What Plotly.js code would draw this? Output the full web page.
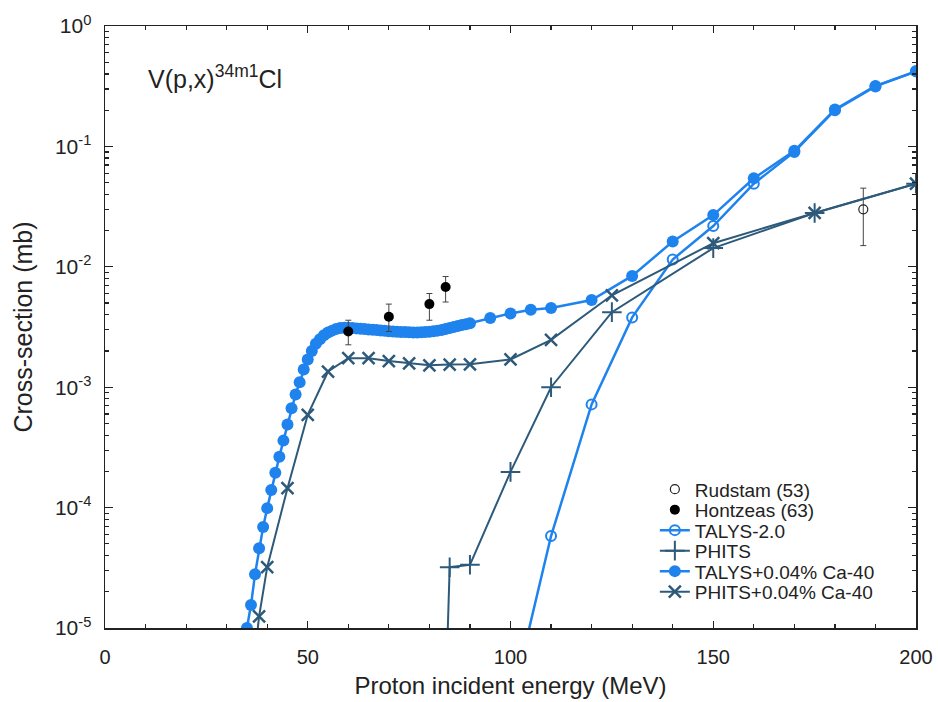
<!DOCTYPE html>
<html><head><meta charset="utf-8">
<script src="https://cdn.plot.ly/plotly-3.0.1.min.js"></script>
<style>html,body{margin:0;padding:0;background:#fff}#chart{width:938px;height:702px}</style>
</head><body><div id="chart"></div>
<script>
// TALYS + 0.04% Ca-40 (filled circles)
const talysCaE = [35,36,37,38,39,40,41,42,43,44,45,46,47,48,49,50,51,52,53,54,55,56,57,58,59,60,
  61,62,63,64,65,66,67,68,69,70,71,72,73,74,75,76,77,78,79,80,81,82,83,84,85,86,87,88,89,90,
  95,100,105,110,120,130,140,150,160,170,180,190,200];
const talysCaV = [1.0e-5,1.55e-5,2.8e-5,4.6e-5,6.9e-5,9.9e-5,1.4e-4,1.95e-4,2.65e-4,3.6e-4,4.9e-4,6.7e-4,8.7e-4,1.1e-3,1.4e-3,1.7e-3,2.0e-3,2.3e-3,2.5e-3,2.7e-3,2.85e-3,2.95e-3,3.05e-3,3.1e-3,3.12e-3,3.12e-3,
  3.1e-3,3.08e-3,3.06e-3,3.04e-3,3.02e-3,3.0e-3,2.98e-3,2.96e-3,2.94e-3,2.92e-3,2.9e-3,2.89e-3,2.88e-3,2.87e-3,2.86e-3,2.85e-3,2.85e-3,2.86e-3,2.87e-3,2.89e-3,2.92e-3,2.95e-3,2.99e-3,3.04e-3,3.1e-3,3.16e-3,3.22e-3,3.28e-3,3.34e-3,3.4e-3,
  3.75e-3,4.1e-3,4.4e-3,4.55e-3,5.3e-3,8.4e-3,1.62e-2,2.69e-2,5.43e-2,9.2e-2,0.203,0.318,0.42];

// TALYS-2.0 (open circles)
const talysE = [100,110,120,130,140,150,160,170,180,190,200];
const talysV = [2.2e-6,5.8e-5,7.2e-4,3.8e-3,1.15e-2,2.18e-2,4.9e-2,9.0e-2,0.2,0.315,0.42];

// PHITS (+)
const phitsE = [80,85,90,100,110,125,150,175,200];
const phitsV = [1e-10,3.2e-5,3.35e-5,1.98e-4,1.0e-3,4.2e-3,1.43e-2,2.8e-2,4.9e-2];

// PHITS + 0.04% Ca-40 (x)
const phitsCaE = [36,38,40,45,50,55,60,65,70,75,80,85,90,100,110,125,150,175,200];
const phitsCaV = [3e-6,1.25e-5,3.2e-5,1.45e-4,5.9e-4,1.35e-3,1.74e-3,1.74e-3,1.65e-3,1.58e-3,1.52e-3,1.54e-3,1.55e-3,1.7e-3,2.47e-3,5.8e-3,1.57e-2,2.8e-2,4.9e-2];

// Experimental data
const rudstamE = [187];
const rudstamV = [3.0e-2];
const rudstamErrPlus = [1.5e-2];
const rudstamErrMinus = [1.5e-2];

const hontzeasE = [60,70,80,84];
const hontzeasV = [2.9e-3,3.85e-3,4.9e-3,6.8e-3];
const hontzeasErrPlus = [0.7e-3,1.05e-3,1.1e-3,1.5e-3];
const hontzeasErrMinus = [0.65e-3,0.95e-3,1.3e-3,1.7e-3];

// Axis ticks
const yTickVals = [1e-5,1e-4,1e-3,1e-2,1e-1,1];
const yTickText = ['10<sup>-5</sup>','10<sup>-4</sup>','10<sup>-3</sup>','10<sup>-2</sup>','10<sup>-1</sup>','10<sup>0</sup>'];
const xTickVals = [0,50,100,150,200];

const minorY = [];
for (let d = -5; d < 0; d++) for (let k = 2; k <= 9; k++) minorY.push(k * Math.pow(10, d));

const BLUE = '#1f83ee';
const DARK = '#2d5a7a';
const FONT = 'Liberation Sans, Arial, Helvetica, sans-serif';

const traces = [
  {x: talysE, y: talysV, name: 'TALYS-2.0', mode: 'lines+markers', legendrank: 3,
   line: {color: BLUE, width: 2.5},
   marker: {symbol: 'circle-open', size: 10, color: BLUE, line: {color: BLUE, width: 2}}},
  {x: phitsE, y: phitsV, name: 'PHITS', mode: 'lines+markers', legendrank: 4,
   line: {color: DARK, width: 2},
   marker: {symbol: 'cross-thin', size: 14, color: DARK, line: {color: DARK, width: 2}}},
  {x: talysCaE, y: talysCaV, name: 'TALYS+0.04% Ca-40', mode: 'lines+markers', legendrank: 5,
   line: {color: BLUE, width: 2.5},
   marker: {symbol: 'circle', size: 12, color: BLUE}},
  {x: phitsCaE, y: phitsCaV, name: 'PHITS+0.04% Ca-40', mode: 'lines+markers', legendrank: 6,
   line: {color: DARK, width: 2},
   marker: {symbol: 'x-thin', size: 12, color: DARK, line: {color: DARK, width: 2.5}}},
  {x: rudstamE, y: rudstamV, name: 'Rudstam (53)', mode: 'markers', legendrank: 1,
   marker: {symbol: 'circle-open', size: 9, color: '#222', line: {color: '#222', width: 1.2}},
   error_y: {type: 'data', symmetric: false, array: rudstamErrPlus, arrayminus: rudstamErrMinus,
     color: '#444', thickness: 1, width: 3}},
  {x: hontzeasE, y: hontzeasV, name: 'Hontzeas (63)', mode: 'markers', legendrank: 2,
   marker: {symbol: 'circle', size: 10, color: '#000'},
   error_y: {type: 'data', symmetric: false, array: hontzeasErrPlus, arrayminus: hontzeasErrMinus,
     color: '#444', thickness: 1, width: 3}}
];

const layout = {
  width: 938, height: 702,
  margin: {l: 105, r: 22, t: 26, b: 74},
  paper_bgcolor: '#fff', plot_bgcolor: '#fff',
  font: {family: FONT, color: '#222', size: 18},
  showlegend: true,
  legend: {x: 0.678, y: 0.262, xanchor: 'left', yanchor: 'top', bgcolor: 'rgba(0,0,0,0)',
    font: {family: FONT, size: 19, color: '#222'}, tracegroupgap: 0},
  xaxis: {
    type: 'linear', range: [0, 200], tickmode: 'array', tickvals: xTickVals,
    ticks: 'inside', ticklen: 7, tickwidth: 1.2, tickcolor: '#222', ticklabelstandoff: 10,
    minor: {dtick: 10, tick0: 0, ticks: 'inside', ticklen: 4, tickwidth: 1.2, tickcolor: '#222', showgrid: false},
    showline: true, linecolor: '#222', linewidth: 1.5, mirror: 'ticks',
    showgrid: false, zeroline: false,
    tickfont: {family: FONT, size: 20, color: '#222'},
    title: {text: 'Proton incident energy (MeV)', font: {family: FONT, size: 24, color: '#222'}, standoff: 10}
  },
  yaxis: {
    type: 'log', range: [-5, 0], tickmode: 'array', tickvals: yTickVals, ticktext: yTickText,
    ticks: 'inside', ticklen: 8, tickwidth: 1.2, tickcolor: '#222', ticklabelstandoff: 8,
    minor: {tickmode: 'array', tickvals: minorY, ticks: 'inside', ticklen: 4, tickwidth: 1.2, tickcolor: '#222', showgrid: false},
    showline: true, linecolor: '#222', linewidth: 1.5, mirror: 'ticks',
    showgrid: false, zeroline: false,
    tickfont: {family: FONT, size: 21, color: '#222'},
    title: {text: 'Cross-section (mb)', font: {family: FONT, size: 25, color: '#222'}, standoff: 15}
  },
  annotations: [{
    xref: 'paper', yref: 'paper', x: 0.05, y: 0.915, xanchor: 'left', yanchor: 'middle',
    text: 'V(p,x)<sup>34m1</sup>Cl', showarrow: false,
    font: {family: FONT, size: 25, color: '#222'}
  }]
};

Plotly.newPlot('chart', traces, layout, {displayModeBar: false, staticPlot: true}).then(function () {
  // tighten legend row spacing to match the reference
  const items = document.querySelectorAll('.legend .traces');
  if (!items.length) return;
  const parse = g => {
    const m = /translate\(([-\d.]+)[ ,]+([-\d.]+)\)/.exec(g.getAttribute('transform') || '');
    return m ? [parseFloat(m[1]), parseFloat(m[2])] : [0, 0];
  };
  const first = parse(items[0]);
  items.forEach(function (g, i) {
    const p = parse(g);
    g.setAttribute('transform', 'translate(' + p[0] + ',' + (first[1] + i * 20.5) + ')');
  });
});
</script>
</body></html>
